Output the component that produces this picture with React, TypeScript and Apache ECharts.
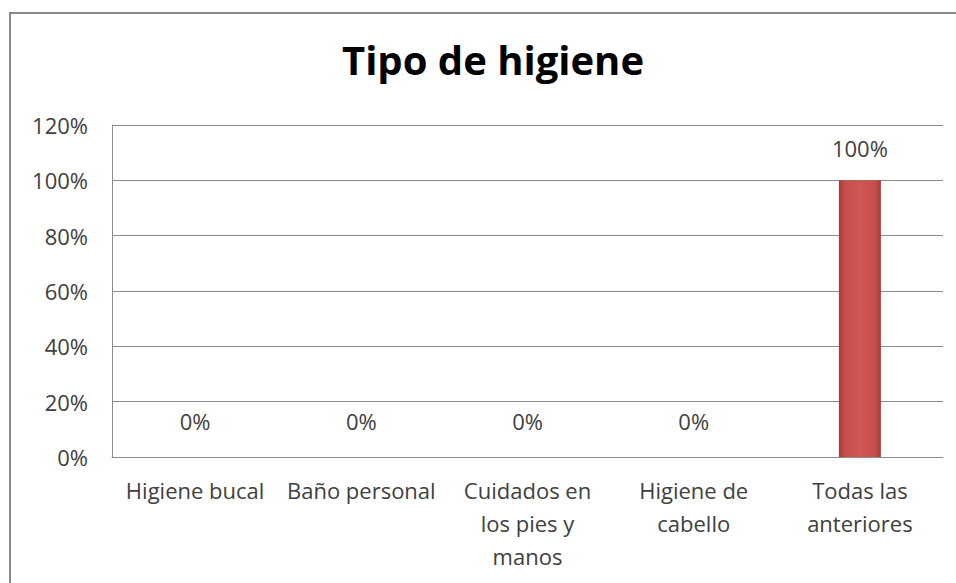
import React, { useEffect, useRef } from "react";
import * as echarts from "echarts";

const categories = [
  "Higiene bucal",
  "Baño personal",
  "Cuidados en los pies y manos",
  "Higiene de cabello",
  "Todas las anteriores",
];
const wrappedLabels = [
  "Higiene bucal",
  "Baño personal",
  "Cuidados en\nlos pies y\nmanos",
  "Higiene de\ncabello",
  "Todas las\nanteriores",
];
const values = [0, 0, 0, 0, 100];
const yTicks = [0, 20, 40, 60, 80, 100, 120];

const FONT = "'Open Sans', sans-serif";

export default function App() {
  const ref = useRef<HTMLDivElement>(null);
  useEffect(() => {
    if (!ref.current) return;
    const chart = echarts.init(ref.current, null, { renderer: "svg" });
    chart.setOption({
      animation: false,
      backgroundColor: "#ffffff",
      title: {
        text: "Tipo de higiene",
        left: 488,
        textAlign: "center",
        top: 34,
        textStyle: { fontFamily: FONT, fontSize: 40, fontWeight: "bold", color: "#000" },
      },
      graphic: [
        {
          type: "rect",
          shape: { x: 10, y: 13, width: 960, height: 600 },
          style: { fill: "none", stroke: "#8a8a8a", lineWidth: 2 },
          z: 100,
        },
      ],
      grid: { left: 112, top: 125, right: 13, bottom: 126 },
      xAxis: {
        type: "category",
        data: categories,
        axisLine: { lineStyle: { color: "#8c8c8c", width: 1 } },
        axisTick: { show: false },
        axisLabel: {
          interval: 0,
          margin: 16,
          fontFamily: FONT,
          fontSize: 22,
          lineHeight: 33,
          color: "#404040",
          formatter: (v: string) => wrappedLabels[categories.indexOf(v)],
        },
      },
      yAxis: {
        type: "value",
        min: 0,
        max: 120,
        interval: 20,
        axisLine: { show: true, lineStyle: { color: "#8c8c8c", width: 1 } },
        axisTick: { show: false },
        splitLine: { lineStyle: { color: "#8c8c8c", width: 1 } },
        axisLabel: {
          margin: 24,
          fontFamily: FONT,
          fontSize: 22,
          color: "#404040",
          formatter: (v: number) => (yTicks.includes(v) ? v + "%" : ""),
        },
      },
      series: [
        {
          type: "bar",
          barWidth: 42,
          data: values.map((v) => ({
            value: v,
            label: { distance: v === 0 ? 25 : 21 },
          })),
          itemStyle: {
            color: new echarts.graphic.LinearGradient(0, 0, 1, 0, [
              { offset: 0, color: "#a03c39" },
              { offset: 0.15, color: "#c64f4b" },
              { offset: 0.5, color: "#cf5753" },
              { offset: 0.85, color: "#c64f4b" },
              { offset: 1, color: "#a03c39" },
            ]),
          },
          label: {
            show: true,
            position: "top",
            fontFamily: FONT,
            fontSize: 22,
            color: "#404040",
            formatter: (p: any) => p.value + "%",
          },
        },
      ],
    });
    return () => chart.dispose();
  }, []);
  return (
    <div
      ref={ref}
      style={{ position: "fixed", left: 0, top: 0, width: 956, height: 583 }}
    />
  );
}
